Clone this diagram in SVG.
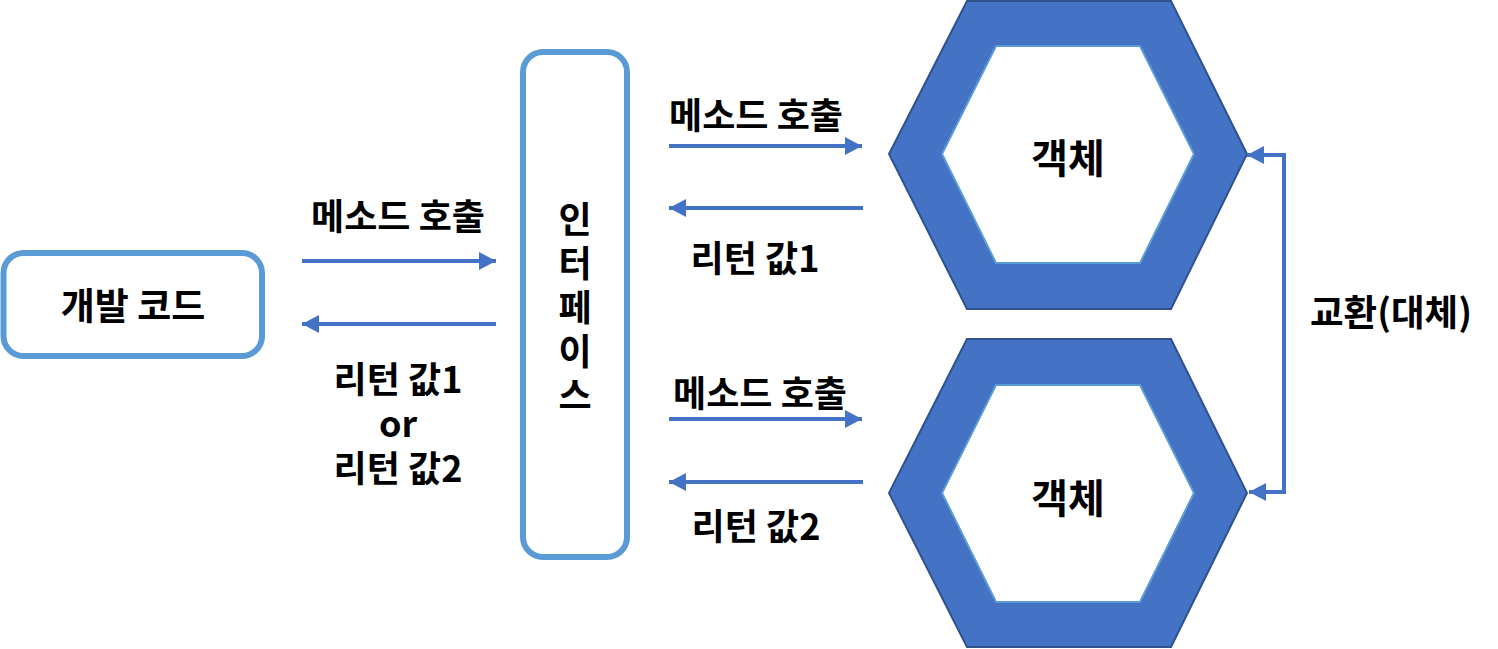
<svg xmlns="http://www.w3.org/2000/svg" width="1498" height="649" viewBox="0 0 1498 649">
<defs>
<style>
.t{font-family:"Noto Sans CJK KR","Noto Sans",sans-serif;font-weight:bold;font-size:36px;fill:#000;text-anchor:middle;dominant-baseline:central}
.box{fill:#fff;stroke:#5B9BD5;stroke-width:6}
.hexo{fill:#4472C4;stroke:#2F528F;stroke-width:2}
.hexi{fill:#fff;stroke:#5B9BD5;stroke-width:2}
.c{fill:none;stroke:#4472C4;stroke-width:4}
</style>
<marker id="ah" viewBox="0 0 17 18" refX="17" refY="9" markerWidth="17" markerHeight="18" markerUnits="userSpaceOnUse" orient="auto-start-reverse">
<path d="M0,0 L17,9 L0,18 z" fill="#4472C4"/>
</marker>
</defs>
<rect width="1498" height="649" fill="#fff"/>
<g id="dev-code">
<rect class="box" x="3.5" y="253" width="258.5" height="103" rx="20"/>
<text class="t" x="133" y="304" style="font-size:37px">개발 코드</text>
</g>
<g id="interface">
<rect class="box" x="523" y="52" width="104" height="505" rx="20"/>
<text class="t" x="575" y="311" style="writing-mode:vertical-rl;text-orientation:upright;letter-spacing:8px;dominant-baseline:auto">인터페이스</text>
</g>
<g id="object1">
<polygon class="hexo" points="967,1 1171,1 1247,154 1171,309 967,309 889,154"/>
<polygon class="hexi" points="996,46 1140,46 1194,154 1140,263 996,263 942,154"/>
<text class="t" x="1068" y="156" style="font-size:40px">객체</text>
</g>
<g id="object2">
<polygon class="hexo" points="967,339 1171,339 1247,493 1171,647 967,647 889,493"/>
<polygon class="hexi" points="996,385 1140,385 1194,493 1140,602 996,602 942,493"/>
<text class="t" x="1068" y="496" style="font-size:40px">객체</text>
</g>
<g id="connectors">
<line class="c" x1="302" y1="261" x2="496" y2="261" marker-end="url(#ah)"/>
<line class="c" x1="496" y1="324" x2="302" y2="324" marker-end="url(#ah)"/>
<line class="c" x1="669" y1="146" x2="862" y2="146" marker-end="url(#ah)"/>
<line class="c" x1="863" y1="208" x2="669" y2="208" marker-end="url(#ah)"/>
<line class="c" x1="669" y1="419" x2="862" y2="419" marker-end="url(#ah)"/>
<line class="c" x1="863" y1="482" x2="669" y2="482" marker-end="url(#ah)"/>
<path class="c" d="M1247,155 H1284 V492 H1249" marker-start="url(#ah)" marker-end="url(#ah)"/>
</g>
<g id="labels">
<text class="t" x="398" y="214">메소드 호출</text>
<text class="t" x="398" y="377"><tspan x="398" y="377">리턴 값1</tspan><tspan x="398" y="421">or</tspan><tspan x="398" y="466">리턴 값2</tspan></text>
<text class="t" x="756" y="113">메소드 호출</text>
<text class="t" x="755" y="256">리턴 값1</text>
<text class="t" x="760" y="391">메소드 호출</text>
<text class="t" x="756" y="524">리턴 값2</text>
<text class="t" x="1391" y="310" style="font-size:36.5px">교환(대체)</text>
</g>
</svg>
